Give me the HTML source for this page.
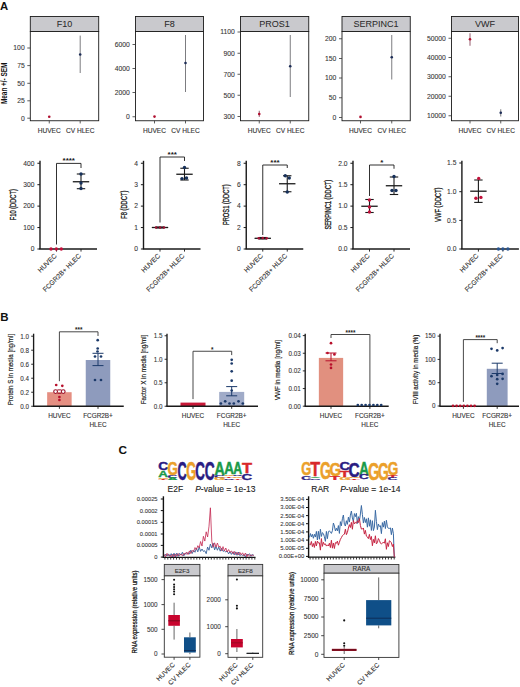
<!DOCTYPE html>
<html><head><meta charset="utf-8"><style>
html,body{margin:0;padding:0;background:#fff;width:520px;height:687px;overflow:hidden}
svg{display:block}
text{font-family:"Liberation Sans", sans-serif}
</style></head><body>
<svg width="520" height="687" viewBox="0 0 520 687">
<rect width="520" height="687" fill="#fff"/>
<text x="0.1" y="9.9" font-size="11.3" text-anchor="start" fill="#111" font-weight="bold">A</text>
<text x="0.2" y="320.6" font-size="11.5" text-anchor="start" fill="#111" font-weight="bold">B</text>
<text x="118.4" y="453.9" font-size="11.8" text-anchor="start" fill="#111" font-weight="bold">C</text>
<rect x="30.3" y="16.5" width="68.4" height="15" fill="#c9c9cd" stroke="#1a1a1a" stroke-width="0.9"/>
<rect x="30.3" y="31.5" width="68.4" height="89.25" fill="#fff" stroke="#1a1a1a" stroke-width="0.9"/>
<text x="64.5" y="27" font-size="9" text-anchor="middle" fill="#2a2a2a" font-weight="normal" stroke="#2a2a2a" stroke-width="0.05">F10</text>
<line x1="27.3" y1="48" x2="30.3" y2="48" stroke="#333" stroke-width="0.8"/>
<text x="24.7" y="50.4" font-size="6.8" text-anchor="end" fill="#333" font-weight="normal" stroke="#333" stroke-width="0.08">100</text>
<line x1="27.3" y1="65.6" x2="30.3" y2="65.6" stroke="#333" stroke-width="0.8"/>
<text x="24.7" y="68" font-size="6.8" text-anchor="end" fill="#333" font-weight="normal" stroke="#333" stroke-width="0.08">75</text>
<line x1="27.3" y1="83.3" x2="30.3" y2="83.3" stroke="#333" stroke-width="0.8"/>
<text x="24.7" y="85.7" font-size="6.8" text-anchor="end" fill="#333" font-weight="normal" stroke="#333" stroke-width="0.08">50</text>
<line x1="27.3" y1="100.8" x2="30.3" y2="100.8" stroke="#333" stroke-width="0.8"/>
<text x="24.7" y="103.2" font-size="6.8" text-anchor="end" fill="#333" font-weight="normal" stroke="#333" stroke-width="0.08">25</text>
<line x1="27.3" y1="118.2" x2="30.3" y2="118.2" stroke="#333" stroke-width="0.8"/>
<text x="24.7" y="120.6" font-size="6.8" text-anchor="end" fill="#333" font-weight="normal" stroke="#333" stroke-width="0.08">0</text>
<line x1="49.25" y1="120.75" x2="49.25" y2="123.45" stroke="#333" stroke-width="0.8"/>
<text x="49.25" y="132.6" font-size="6.6" text-anchor="middle" fill="#333" font-weight="normal" stroke="#333" stroke-width="0.12">HUVEC</text>
<line x1="80.2" y1="120.75" x2="80.2" y2="123.45" stroke="#333" stroke-width="0.8"/>
<text x="80.2" y="132.6" font-size="6.6" text-anchor="middle" fill="#333" font-weight="normal" stroke="#333" stroke-width="0.12">CV HLEC</text>
<circle cx="49.25" cy="116.7" r="1.3" fill="#b01030" stroke="none" stroke-width="0"/>
<line x1="80.2" y1="35.6" x2="80.2" y2="73" stroke="#5a5a60" stroke-width="0.8"/>
<circle cx="80.2" cy="54.5" r="1.3" fill="#1c2c56" stroke="none" stroke-width="0"/>
<rect x="135.5" y="16.5" width="68" height="15" fill="#c9c9cd" stroke="#1a1a1a" stroke-width="0.9"/>
<rect x="135.5" y="31.5" width="68" height="89.25" fill="#fff" stroke="#1a1a1a" stroke-width="0.9"/>
<text x="169.5" y="27" font-size="9" text-anchor="middle" fill="#2a2a2a" font-weight="normal" stroke="#2a2a2a" stroke-width="0.05">F8</text>
<line x1="132.5" y1="44.5" x2="135.5" y2="44.5" stroke="#333" stroke-width="0.8"/>
<text x="129.9" y="46.9" font-size="6.8" text-anchor="end" fill="#333" font-weight="normal" stroke="#333" stroke-width="0.08">6000</text>
<line x1="132.5" y1="68.5" x2="135.5" y2="68.5" stroke="#333" stroke-width="0.8"/>
<text x="129.9" y="70.9" font-size="6.8" text-anchor="end" fill="#333" font-weight="normal" stroke="#333" stroke-width="0.08">4000</text>
<line x1="132.5" y1="92.5" x2="135.5" y2="92.5" stroke="#333" stroke-width="0.8"/>
<text x="129.9" y="94.9" font-size="6.8" text-anchor="end" fill="#333" font-weight="normal" stroke="#333" stroke-width="0.08">2000</text>
<line x1="132.5" y1="116.75" x2="135.5" y2="116.75" stroke="#333" stroke-width="0.8"/>
<text x="129.9" y="119.15" font-size="6.8" text-anchor="end" fill="#333" font-weight="normal" stroke="#333" stroke-width="0.08">0</text>
<line x1="154.5" y1="120.75" x2="154.5" y2="123.45" stroke="#333" stroke-width="0.8"/>
<text x="154.5" y="132.6" font-size="6.6" text-anchor="middle" fill="#333" font-weight="normal" stroke="#333" stroke-width="0.12">HUVEC</text>
<line x1="185.5" y1="120.75" x2="185.5" y2="123.45" stroke="#333" stroke-width="0.8"/>
<text x="185.5" y="132.6" font-size="6.6" text-anchor="middle" fill="#333" font-weight="normal" stroke="#333" stroke-width="0.12">CV HLEC</text>
<circle cx="154.5" cy="116.6" r="1.3" fill="#b01030" stroke="none" stroke-width="0"/>
<line x1="185.5" y1="35" x2="185.5" y2="92" stroke="#5a5a60" stroke-width="0.8"/>
<circle cx="185.5" cy="63" r="1.3" fill="#1c2c56" stroke="none" stroke-width="0"/>
<rect x="240.5" y="16.5" width="68.25" height="15" fill="#c9c9cd" stroke="#1a1a1a" stroke-width="0.9"/>
<rect x="240.5" y="31.5" width="68.25" height="89.25" fill="#fff" stroke="#1a1a1a" stroke-width="0.9"/>
<text x="274.62" y="27" font-size="9" text-anchor="middle" fill="#2a2a2a" font-weight="normal" stroke="#2a2a2a" stroke-width="0.05">PROS1</text>
<line x1="237.5" y1="32" x2="240.5" y2="32" stroke="#333" stroke-width="0.8"/>
<text x="234.9" y="34.4" font-size="6.8" text-anchor="end" fill="#333" font-weight="normal" stroke="#333" stroke-width="0.08">1100</text>
<line x1="237.5" y1="53.25" x2="240.5" y2="53.25" stroke="#333" stroke-width="0.8"/>
<text x="234.9" y="55.65" font-size="6.8" text-anchor="end" fill="#333" font-weight="normal" stroke="#333" stroke-width="0.08">900</text>
<line x1="237.5" y1="74.25" x2="240.5" y2="74.25" stroke="#333" stroke-width="0.8"/>
<text x="234.9" y="76.65" font-size="6.8" text-anchor="end" fill="#333" font-weight="normal" stroke="#333" stroke-width="0.08">700</text>
<line x1="237.5" y1="95.25" x2="240.5" y2="95.25" stroke="#333" stroke-width="0.8"/>
<text x="234.9" y="97.65" font-size="6.8" text-anchor="end" fill="#333" font-weight="normal" stroke="#333" stroke-width="0.08">500</text>
<line x1="237.5" y1="116.5" x2="240.5" y2="116.5" stroke="#333" stroke-width="0.8"/>
<text x="234.9" y="118.9" font-size="6.8" text-anchor="end" fill="#333" font-weight="normal" stroke="#333" stroke-width="0.08">300</text>
<line x1="259.25" y1="120.75" x2="259.25" y2="123.45" stroke="#333" stroke-width="0.8"/>
<text x="259.25" y="132.6" font-size="6.6" text-anchor="middle" fill="#333" font-weight="normal" stroke="#333" stroke-width="0.12">HUVEC</text>
<line x1="290.25" y1="120.75" x2="290.25" y2="123.45" stroke="#333" stroke-width="0.8"/>
<text x="290.25" y="132.6" font-size="6.6" text-anchor="middle" fill="#333" font-weight="normal" stroke="#333" stroke-width="0.12">CV HLEC</text>
<line x1="259.25" y1="110.75" x2="259.25" y2="116.9" stroke="#7a3048" stroke-width="0.8"/>
<circle cx="259.25" cy="114" r="1.3" fill="#b01030" stroke="none" stroke-width="0"/>
<line x1="290.25" y1="35" x2="290.25" y2="97" stroke="#5a5a60" stroke-width="0.8"/>
<circle cx="290.25" cy="66.25" r="1.3" fill="#1c2c56" stroke="none" stroke-width="0"/>
<rect x="342" y="16.5" width="68.25" height="15" fill="#c9c9cd" stroke="#1a1a1a" stroke-width="0.9"/>
<rect x="342" y="31.5" width="68.25" height="89.25" fill="#fff" stroke="#1a1a1a" stroke-width="0.9"/>
<text x="376.12" y="27" font-size="9" text-anchor="middle" fill="#2a2a2a" font-weight="normal" stroke="#2a2a2a" stroke-width="0.05">SERPINC1</text>
<line x1="339" y1="38.75" x2="342" y2="38.75" stroke="#333" stroke-width="0.8"/>
<text x="336.4" y="41.15" font-size="6.8" text-anchor="end" fill="#333" font-weight="normal" stroke="#333" stroke-width="0.08">200</text>
<line x1="339" y1="58.5" x2="342" y2="58.5" stroke="#333" stroke-width="0.8"/>
<text x="336.4" y="60.9" font-size="6.8" text-anchor="end" fill="#333" font-weight="normal" stroke="#333" stroke-width="0.08">150</text>
<line x1="339" y1="78" x2="342" y2="78" stroke="#333" stroke-width="0.8"/>
<text x="336.4" y="80.4" font-size="6.8" text-anchor="end" fill="#333" font-weight="normal" stroke="#333" stroke-width="0.08">100</text>
<line x1="339" y1="97.75" x2="342" y2="97.75" stroke="#333" stroke-width="0.8"/>
<text x="336.4" y="100.15" font-size="6.8" text-anchor="end" fill="#333" font-weight="normal" stroke="#333" stroke-width="0.08">50</text>
<line x1="339" y1="117.5" x2="342" y2="117.5" stroke="#333" stroke-width="0.8"/>
<text x="336.4" y="119.9" font-size="6.8" text-anchor="end" fill="#333" font-weight="normal" stroke="#333" stroke-width="0.08">0</text>
<line x1="360.5" y1="120.75" x2="360.5" y2="123.45" stroke="#333" stroke-width="0.8"/>
<text x="360.5" y="132.6" font-size="6.6" text-anchor="middle" fill="#333" font-weight="normal" stroke="#333" stroke-width="0.12">HUVEC</text>
<line x1="391.75" y1="120.75" x2="391.75" y2="123.45" stroke="#333" stroke-width="0.8"/>
<text x="391.75" y="132.6" font-size="6.6" text-anchor="middle" fill="#333" font-weight="normal" stroke="#333" stroke-width="0.12">CV HLEC</text>
<circle cx="360.5" cy="116.9" r="1.3" fill="#b01030" stroke="none" stroke-width="0"/>
<line x1="391.75" y1="35" x2="391.75" y2="79.5" stroke="#5a5a60" stroke-width="0.8"/>
<circle cx="391.75" cy="57.25" r="1.3" fill="#1c2c56" stroke="none" stroke-width="0"/>
<rect x="451.5" y="16.5" width="67" height="15" fill="#c9c9cd" stroke="#1a1a1a" stroke-width="0.9"/>
<rect x="451.5" y="31.5" width="67" height="89.25" fill="#fff" stroke="#1a1a1a" stroke-width="0.9"/>
<text x="485" y="27" font-size="9" text-anchor="middle" fill="#2a2a2a" font-weight="normal" stroke="#2a2a2a" stroke-width="0.05">VWF</text>
<line x1="448.5" y1="38.25" x2="451.5" y2="38.25" stroke="#333" stroke-width="0.8"/>
<text x="445.9" y="40.65" font-size="6.8" text-anchor="end" fill="#333" font-weight="normal" stroke="#333" stroke-width="0.08">50000</text>
<line x1="448.5" y1="57.5" x2="451.5" y2="57.5" stroke="#333" stroke-width="0.8"/>
<text x="445.9" y="59.9" font-size="6.8" text-anchor="end" fill="#333" font-weight="normal" stroke="#333" stroke-width="0.08">40000</text>
<line x1="448.5" y1="76.75" x2="451.5" y2="76.75" stroke="#333" stroke-width="0.8"/>
<text x="445.9" y="79.15" font-size="6.8" text-anchor="end" fill="#333" font-weight="normal" stroke="#333" stroke-width="0.08">30000</text>
<line x1="448.5" y1="96.25" x2="451.5" y2="96.25" stroke="#333" stroke-width="0.8"/>
<text x="445.9" y="98.65" font-size="6.8" text-anchor="end" fill="#333" font-weight="normal" stroke="#333" stroke-width="0.08">20000</text>
<line x1="448.5" y1="115.75" x2="451.5" y2="115.75" stroke="#333" stroke-width="0.8"/>
<text x="445.9" y="118.15" font-size="6.8" text-anchor="end" fill="#333" font-weight="normal" stroke="#333" stroke-width="0.08">10000</text>
<line x1="470" y1="120.75" x2="470" y2="123.45" stroke="#333" stroke-width="0.8"/>
<text x="470" y="132.6" font-size="6.6" text-anchor="middle" fill="#333" font-weight="normal" stroke="#333" stroke-width="0.12">HUVEC</text>
<line x1="500.75" y1="120.75" x2="500.75" y2="123.45" stroke="#333" stroke-width="0.8"/>
<text x="500.75" y="132.6" font-size="6.6" text-anchor="middle" fill="#333" font-weight="normal" stroke="#333" stroke-width="0.12">CV HLEC</text>
<line x1="470" y1="33.25" x2="470" y2="45.75" stroke="#7a3048" stroke-width="0.8"/>
<circle cx="470" cy="39.25" r="1.3" fill="#b01030" stroke="none" stroke-width="0"/>
<line x1="500.75" y1="109.25" x2="500.75" y2="116.5" stroke="#5a5a60" stroke-width="0.8"/>
<circle cx="500.75" cy="112.75" r="1.3" fill="#1c2c56" stroke="none" stroke-width="0"/>
<text x="7.3" y="83.35" font-size="8.2" text-anchor="middle" fill="#111" font-weight="bold" transform="rotate(-90 7.3 83.35)" textLength="41.5" lengthAdjust="spacingAndGlyphs">Mean +/- SEM</text>
<line x1="40" y1="160.8" x2="40" y2="249" stroke="#1a1a1a" stroke-width="1.4"/>
<line x1="39.3" y1="249" x2="97" y2="249" stroke="#1a1a1a" stroke-width="1.4"/>
<line x1="37.4" y1="163.25" x2="40" y2="163.25" stroke="#1a1a1a" stroke-width="1.0"/>
<text x="34.5" y="165.55" font-size="6.7" text-anchor="end" fill="#333" font-weight="normal" stroke="#333" stroke-width="0.08">400</text>
<line x1="37.4" y1="184.69" x2="40" y2="184.69" stroke="#1a1a1a" stroke-width="1.0"/>
<text x="34.5" y="186.99" font-size="6.7" text-anchor="end" fill="#333" font-weight="normal" stroke="#333" stroke-width="0.08">300</text>
<line x1="37.4" y1="206.12" x2="40" y2="206.12" stroke="#1a1a1a" stroke-width="1.0"/>
<text x="34.5" y="208.43" font-size="6.7" text-anchor="end" fill="#333" font-weight="normal" stroke="#333" stroke-width="0.08">200</text>
<line x1="37.4" y1="227.56" x2="40" y2="227.56" stroke="#1a1a1a" stroke-width="1.0"/>
<text x="34.5" y="229.86" font-size="6.7" text-anchor="end" fill="#333" font-weight="normal" stroke="#333" stroke-width="0.08">100</text>
<line x1="37.4" y1="249" x2="40" y2="249" stroke="#1a1a1a" stroke-width="1.0"/>
<text x="34.5" y="251.3" font-size="6.7" text-anchor="end" fill="#333" font-weight="normal" stroke="#333" stroke-width="0.08">0</text>
<line x1="56.5" y1="249" x2="56.5" y2="251.6" stroke="#1a1a1a" stroke-width="0.9"/>
<line x1="81" y1="249" x2="81" y2="251.6" stroke="#1a1a1a" stroke-width="0.9"/>
<text x="57.1" y="256.4" font-size="6.7" text-anchor="end" fill="#333" font-weight="normal" stroke="#333" stroke-width="0.12" transform="rotate(-45 57.1 256.4)">HUVEC</text>
<text x="81.4" y="256.4" font-size="6.7" text-anchor="end" fill="#333" font-weight="normal" stroke="#333" stroke-width="0.12" transform="rotate(-45 81.4 256.4)">FCGR2B+ HLEC</text>
<text x="15.9" y="204.7" font-size="8.2" text-anchor="middle" fill="#111" font-weight="normal" stroke="#111" stroke-width="0.28" transform="rotate(-90 15.9 204.7)" textLength="31.2" lengthAdjust="spacingAndGlyphs">F10 (DDCT)</text>
<path d="M56.5 244.5 V163.4 H81 V168" stroke="#1a1a1a" stroke-width="0.9" fill="none"/>
<text x="68.75" y="162.9" font-size="8" text-anchor="middle" fill="#1a1a1a" font-weight="bold">****</text>
<line x1="81" y1="174" x2="81" y2="188.7" stroke="#1a1a1a" stroke-width="1.1"/>
<line x1="76.8" y1="174" x2="85.2" y2="174" stroke="#1a1a1a" stroke-width="1.1"/>
<line x1="76.8" y1="188.7" x2="85.2" y2="188.7" stroke="#1a1a1a" stroke-width="1.1"/>
<line x1="72.8" y1="181.75" x2="89.2" y2="181.75" stroke="#1a1a1a" stroke-width="1.3"/>
<circle cx="51" cy="249" r="1.7" fill="#c2103a" stroke="none" stroke-width="0"/>
<circle cx="56.3" cy="249" r="1.7" fill="#c2103a" stroke="none" stroke-width="0"/>
<circle cx="61.3" cy="249" r="1.7" fill="#c2103a" stroke="none" stroke-width="0"/>
<circle cx="81" cy="174" r="1.7" fill="#16305a" stroke="none" stroke-width="0"/>
<circle cx="81" cy="183" r="1.7" fill="#16305a" stroke="none" stroke-width="0"/>
<circle cx="81" cy="188.5" r="1.7" fill="#16305a" stroke="none" stroke-width="0"/>
<line x1="143.5" y1="160.8" x2="143.5" y2="249" stroke="#1a1a1a" stroke-width="1.4"/>
<line x1="142.8" y1="249" x2="200.5" y2="249" stroke="#1a1a1a" stroke-width="1.4"/>
<line x1="140.9" y1="163.25" x2="143.5" y2="163.25" stroke="#1a1a1a" stroke-width="1.0"/>
<text x="138" y="165.55" font-size="6.7" text-anchor="end" fill="#333" font-weight="normal" stroke="#333" stroke-width="0.08">4</text>
<line x1="140.9" y1="184.69" x2="143.5" y2="184.69" stroke="#1a1a1a" stroke-width="1.0"/>
<text x="138" y="186.99" font-size="6.7" text-anchor="end" fill="#333" font-weight="normal" stroke="#333" stroke-width="0.08">3</text>
<line x1="140.9" y1="206.12" x2="143.5" y2="206.12" stroke="#1a1a1a" stroke-width="1.0"/>
<text x="138" y="208.43" font-size="6.7" text-anchor="end" fill="#333" font-weight="normal" stroke="#333" stroke-width="0.08">2</text>
<line x1="140.9" y1="227.56" x2="143.5" y2="227.56" stroke="#1a1a1a" stroke-width="1.0"/>
<text x="138" y="229.86" font-size="6.7" text-anchor="end" fill="#333" font-weight="normal" stroke="#333" stroke-width="0.08">1</text>
<line x1="140.9" y1="249" x2="143.5" y2="249" stroke="#1a1a1a" stroke-width="1.0"/>
<text x="138" y="251.3" font-size="6.7" text-anchor="end" fill="#333" font-weight="normal" stroke="#333" stroke-width="0.08">0</text>
<line x1="160" y1="249" x2="160" y2="251.6" stroke="#1a1a1a" stroke-width="0.9"/>
<line x1="184.5" y1="249" x2="184.5" y2="251.6" stroke="#1a1a1a" stroke-width="0.9"/>
<text x="160.6" y="256.4" font-size="6.7" text-anchor="end" fill="#333" font-weight="normal" stroke="#333" stroke-width="0.12" transform="rotate(-45 160.6 256.4)">HUVEC</text>
<text x="184.9" y="256.4" font-size="6.7" text-anchor="end" fill="#333" font-weight="normal" stroke="#333" stroke-width="0.12" transform="rotate(-45 184.9 256.4)">FCGR2B+ HLEC</text>
<text x="126.8" y="204.7" font-size="8.2" text-anchor="middle" fill="#111" font-weight="normal" stroke="#111" stroke-width="0.28" transform="rotate(-90 126.8 204.7)" textLength="28" lengthAdjust="spacingAndGlyphs">F8 (DDCT)</text>
<path d="M160 222.5 V157 H184.5 V161" stroke="#1a1a1a" stroke-width="0.9" fill="none"/>
<text x="172.25" y="156.5" font-size="8" text-anchor="middle" fill="#1a1a1a" font-weight="bold">***</text>
<line x1="160" y1="227" x2="160" y2="228" stroke="#1a1a1a" stroke-width="1.1"/>
<line x1="155.8" y1="227" x2="164.2" y2="227" stroke="#1a1a1a" stroke-width="1.1"/>
<line x1="155.8" y1="228" x2="164.2" y2="228" stroke="#1a1a1a" stroke-width="1.1"/>
<line x1="151.8" y1="227.5" x2="168.2" y2="227.5" stroke="#1a1a1a" stroke-width="1.3"/>
<line x1="184.5" y1="168.25" x2="184.5" y2="180" stroke="#1a1a1a" stroke-width="1.1"/>
<line x1="180.3" y1="168.25" x2="188.7" y2="168.25" stroke="#1a1a1a" stroke-width="1.1"/>
<line x1="180.3" y1="180" x2="188.7" y2="180" stroke="#1a1a1a" stroke-width="1.1"/>
<line x1="176.3" y1="174.25" x2="192.7" y2="174.25" stroke="#1a1a1a" stroke-width="1.3"/>
<circle cx="156" cy="227.5" r="1.25" fill="#9a1030" stroke="none" stroke-width="0"/>
<circle cx="160" cy="227.5" r="1.25" fill="#9a1030" stroke="none" stroke-width="0"/>
<circle cx="164" cy="227.5" r="1.25" fill="#9a1030" stroke="none" stroke-width="0"/>
<circle cx="184.5" cy="167.5" r="1.7" fill="#16305a" stroke="none" stroke-width="0"/>
<circle cx="182" cy="178.6" r="1.7" fill="#16305a" stroke="none" stroke-width="0"/>
<circle cx="186.5" cy="178" r="1.7" fill="#16305a" stroke="none" stroke-width="0"/>
<line x1="246.25" y1="160.8" x2="246.25" y2="249" stroke="#1a1a1a" stroke-width="1.4"/>
<line x1="245.55" y1="249" x2="303.25" y2="249" stroke="#1a1a1a" stroke-width="1.4"/>
<line x1="243.65" y1="163.25" x2="246.25" y2="163.25" stroke="#1a1a1a" stroke-width="1.0"/>
<text x="240.75" y="165.55" font-size="6.7" text-anchor="end" fill="#333" font-weight="normal" stroke="#333" stroke-width="0.08">8</text>
<line x1="243.65" y1="184.69" x2="246.25" y2="184.69" stroke="#1a1a1a" stroke-width="1.0"/>
<text x="240.75" y="186.99" font-size="6.7" text-anchor="end" fill="#333" font-weight="normal" stroke="#333" stroke-width="0.08">6</text>
<line x1="243.65" y1="206.12" x2="246.25" y2="206.12" stroke="#1a1a1a" stroke-width="1.0"/>
<text x="240.75" y="208.43" font-size="6.7" text-anchor="end" fill="#333" font-weight="normal" stroke="#333" stroke-width="0.08">4</text>
<line x1="243.65" y1="227.56" x2="246.25" y2="227.56" stroke="#1a1a1a" stroke-width="1.0"/>
<text x="240.75" y="229.86" font-size="6.7" text-anchor="end" fill="#333" font-weight="normal" stroke="#333" stroke-width="0.08">2</text>
<line x1="243.65" y1="249" x2="246.25" y2="249" stroke="#1a1a1a" stroke-width="1.0"/>
<text x="240.75" y="251.3" font-size="6.7" text-anchor="end" fill="#333" font-weight="normal" stroke="#333" stroke-width="0.08">0</text>
<line x1="262.75" y1="249" x2="262.75" y2="251.6" stroke="#1a1a1a" stroke-width="0.9"/>
<line x1="287.25" y1="249" x2="287.25" y2="251.6" stroke="#1a1a1a" stroke-width="0.9"/>
<text x="263.35" y="256.4" font-size="6.7" text-anchor="end" fill="#333" font-weight="normal" stroke="#333" stroke-width="0.12" transform="rotate(-45 263.35 256.4)">HUVEC</text>
<text x="287.65" y="256.4" font-size="6.7" text-anchor="end" fill="#333" font-weight="normal" stroke="#333" stroke-width="0.12" transform="rotate(-45 287.65 256.4)">FCGR2B+ HLEC</text>
<text x="229.4" y="204.7" font-size="8.2" text-anchor="middle" fill="#111" font-weight="normal" stroke="#111" stroke-width="0.28" transform="rotate(-90 229.4 204.7)" textLength="40.8" lengthAdjust="spacingAndGlyphs">PROS1 (DDCT)</text>
<path d="M262.75 235 V165 H287.25 V168" stroke="#1a1a1a" stroke-width="0.9" fill="none"/>
<text x="275" y="164.5" font-size="8" text-anchor="middle" fill="#1a1a1a" font-weight="bold">***</text>
<line x1="262.75" y1="237.5" x2="262.75" y2="239" stroke="#1a1a1a" stroke-width="1.1"/>
<line x1="258.55" y1="237.5" x2="266.95" y2="237.5" stroke="#1a1a1a" stroke-width="1.1"/>
<line x1="258.55" y1="239" x2="266.95" y2="239" stroke="#1a1a1a" stroke-width="1.1"/>
<line x1="254.55" y1="238.3" x2="270.95" y2="238.3" stroke="#1a1a1a" stroke-width="1.3"/>
<line x1="287.25" y1="175.75" x2="287.25" y2="191.75" stroke="#1a1a1a" stroke-width="1.1"/>
<line x1="283.05" y1="175.75" x2="291.45" y2="175.75" stroke="#1a1a1a" stroke-width="1.1"/>
<line x1="283.05" y1="191.75" x2="291.45" y2="191.75" stroke="#1a1a1a" stroke-width="1.1"/>
<line x1="279.05" y1="183.75" x2="295.45" y2="183.75" stroke="#1a1a1a" stroke-width="1.3"/>
<circle cx="258.75" cy="238.3" r="1.3" fill="#a81034" stroke="none" stroke-width="0"/>
<circle cx="262.75" cy="238" r="1.3" fill="#a81034" stroke="none" stroke-width="0"/>
<circle cx="266.75" cy="238.3" r="1.3" fill="#a81034" stroke="none" stroke-width="0"/>
<circle cx="285.25" cy="175.8" r="1.7" fill="#16305a" stroke="none" stroke-width="0"/>
<circle cx="289.25" cy="178" r="1.7" fill="#16305a" stroke="none" stroke-width="0"/>
<circle cx="287.25" cy="192" r="1.7" fill="#16305a" stroke="none" stroke-width="0"/>
<line x1="353" y1="160.8" x2="353" y2="249" stroke="#1a1a1a" stroke-width="1.4"/>
<line x1="352.3" y1="249" x2="410" y2="249" stroke="#1a1a1a" stroke-width="1.4"/>
<line x1="350.4" y1="163.25" x2="353" y2="163.25" stroke="#1a1a1a" stroke-width="1.0"/>
<text x="347.5" y="165.55" font-size="6.7" text-anchor="end" fill="#333" font-weight="normal" stroke="#333" stroke-width="0.08">2.0</text>
<line x1="350.4" y1="184.69" x2="353" y2="184.69" stroke="#1a1a1a" stroke-width="1.0"/>
<text x="347.5" y="186.99" font-size="6.7" text-anchor="end" fill="#333" font-weight="normal" stroke="#333" stroke-width="0.08">1.5</text>
<line x1="350.4" y1="206.12" x2="353" y2="206.12" stroke="#1a1a1a" stroke-width="1.0"/>
<text x="347.5" y="208.43" font-size="6.7" text-anchor="end" fill="#333" font-weight="normal" stroke="#333" stroke-width="0.08">1.0</text>
<line x1="350.4" y1="227.56" x2="353" y2="227.56" stroke="#1a1a1a" stroke-width="1.0"/>
<text x="347.5" y="229.86" font-size="6.7" text-anchor="end" fill="#333" font-weight="normal" stroke="#333" stroke-width="0.08">0.5</text>
<line x1="350.4" y1="249" x2="353" y2="249" stroke="#1a1a1a" stroke-width="1.0"/>
<text x="347.5" y="251.3" font-size="6.7" text-anchor="end" fill="#333" font-weight="normal" stroke="#333" stroke-width="0.08">0.0</text>
<line x1="369.5" y1="249" x2="369.5" y2="251.6" stroke="#1a1a1a" stroke-width="0.9"/>
<line x1="394" y1="249" x2="394" y2="251.6" stroke="#1a1a1a" stroke-width="0.9"/>
<text x="370.1" y="256.4" font-size="6.7" text-anchor="end" fill="#333" font-weight="normal" stroke="#333" stroke-width="0.12" transform="rotate(-45 370.1 256.4)">HUVEC</text>
<text x="394.4" y="256.4" font-size="6.7" text-anchor="end" fill="#333" font-weight="normal" stroke="#333" stroke-width="0.12" transform="rotate(-45 394.4 256.4)">FCGR2B+ HLEC</text>
<text x="331.3" y="204.7" font-size="8.2" text-anchor="middle" fill="#111" font-weight="normal" stroke="#111" stroke-width="0.28" transform="rotate(-90 331.3 204.7)" textLength="49.8" lengthAdjust="spacingAndGlyphs">SERPINC1 (DDCT)</text>
<path d="M369.5 196 V165 H394 V168.75" stroke="#1a1a1a" stroke-width="0.9" fill="none"/>
<text x="381.75" y="164.5" font-size="8" text-anchor="middle" fill="#1a1a1a" font-weight="bold">*</text>
<line x1="369.5" y1="199.5" x2="369.5" y2="212.5" stroke="#1a1a1a" stroke-width="1.1"/>
<line x1="365.3" y1="199.5" x2="373.7" y2="199.5" stroke="#1a1a1a" stroke-width="1.1"/>
<line x1="365.3" y1="212.5" x2="373.7" y2="212.5" stroke="#1a1a1a" stroke-width="1.1"/>
<line x1="361.3" y1="206.25" x2="377.7" y2="206.25" stroke="#1a1a1a" stroke-width="1.3"/>
<line x1="394" y1="177" x2="394" y2="194.5" stroke="#1a1a1a" stroke-width="1.1"/>
<line x1="389.8" y1="177" x2="398.2" y2="177" stroke="#1a1a1a" stroke-width="1.1"/>
<line x1="389.8" y1="194.5" x2="398.2" y2="194.5" stroke="#1a1a1a" stroke-width="1.1"/>
<line x1="385.8" y1="185.75" x2="402.2" y2="185.75" stroke="#1a1a1a" stroke-width="1.3"/>
<circle cx="369.5" cy="200" r="1.7" fill="#c2103a" stroke="none" stroke-width="0"/>
<circle cx="369.5" cy="207" r="1.7" fill="#c2103a" stroke="none" stroke-width="0"/>
<circle cx="369.5" cy="212" r="1.7" fill="#c2103a" stroke="none" stroke-width="0"/>
<circle cx="394" cy="176.5" r="1.7" fill="#16305a" stroke="none" stroke-width="0"/>
<circle cx="392" cy="190.5" r="1.7" fill="#16305a" stroke="none" stroke-width="0"/>
<circle cx="396" cy="190.5" r="1.7" fill="#16305a" stroke="none" stroke-width="0"/>
<line x1="461.9" y1="160.8" x2="461.9" y2="249" stroke="#1a1a1a" stroke-width="1.4"/>
<line x1="461.2" y1="249" x2="518.9" y2="249" stroke="#1a1a1a" stroke-width="1.4"/>
<line x1="459.3" y1="163" x2="461.9" y2="163" stroke="#1a1a1a" stroke-width="1.0"/>
<text x="456.4" y="165.3" font-size="6.7" text-anchor="end" fill="#333" font-weight="normal" stroke="#333" stroke-width="0.08">1.5</text>
<line x1="459.3" y1="191.7" x2="461.9" y2="191.7" stroke="#1a1a1a" stroke-width="1.0"/>
<text x="456.4" y="194" font-size="6.7" text-anchor="end" fill="#333" font-weight="normal" stroke="#333" stroke-width="0.08">1.0</text>
<line x1="459.3" y1="220.4" x2="461.9" y2="220.4" stroke="#1a1a1a" stroke-width="1.0"/>
<text x="456.4" y="222.7" font-size="6.7" text-anchor="end" fill="#333" font-weight="normal" stroke="#333" stroke-width="0.08">0.5</text>
<line x1="459.3" y1="249" x2="461.9" y2="249" stroke="#1a1a1a" stroke-width="1.0"/>
<text x="456.4" y="251.3" font-size="6.7" text-anchor="end" fill="#333" font-weight="normal" stroke="#333" stroke-width="0.08">0.0</text>
<line x1="478.4" y1="249" x2="478.4" y2="251.6" stroke="#1a1a1a" stroke-width="0.9"/>
<line x1="502.9" y1="249" x2="502.9" y2="251.6" stroke="#1a1a1a" stroke-width="0.9"/>
<text x="479" y="256.4" font-size="6.7" text-anchor="end" fill="#333" font-weight="normal" stroke="#333" stroke-width="0.12" transform="rotate(-45 479 256.4)">HUVEC</text>
<text x="503.3" y="256.4" font-size="6.7" text-anchor="end" fill="#333" font-weight="normal" stroke="#333" stroke-width="0.12" transform="rotate(-45 503.3 256.4)">FCGR2B+ HLEC</text>
<text x="440.8" y="204.7" font-size="8.2" text-anchor="middle" fill="#111" font-weight="normal" stroke="#111" stroke-width="0.28" transform="rotate(-90 440.8 204.7)" textLength="34.4" lengthAdjust="spacingAndGlyphs">VWF (DDCT)</text>
<line x1="478.4" y1="180" x2="478.4" y2="202.4" stroke="#1a1a1a" stroke-width="1.1"/>
<line x1="474.2" y1="180" x2="482.6" y2="180" stroke="#1a1a1a" stroke-width="1.1"/>
<line x1="474.2" y1="202.4" x2="482.6" y2="202.4" stroke="#1a1a1a" stroke-width="1.1"/>
<line x1="470.2" y1="191.2" x2="486.6" y2="191.2" stroke="#1a1a1a" stroke-width="1.3"/>
<circle cx="478.7" cy="178.4" r="1.7" fill="#c2103a" stroke="none" stroke-width="0"/>
<circle cx="475.9" cy="198.2" r="1.7" fill="#c2103a" stroke="none" stroke-width="0"/>
<circle cx="480.9" cy="197.4" r="1.7" fill="#c2103a" stroke="none" stroke-width="0"/>
<circle cx="498.4" cy="249" r="1.7" fill="#2a5590" stroke="none" stroke-width="0"/>
<circle cx="502.9" cy="249" r="1.7" fill="#2a5590" stroke="none" stroke-width="0"/>
<circle cx="507.9" cy="249" r="1.7" fill="#2a5590" stroke="none" stroke-width="0"/>
<rect x="47.15" y="392.2" width="24.5" height="14.05" fill="#e58f82" stroke="none" stroke-width="1"/>
<rect x="85.75" y="360" width="24.5" height="46.25" fill="#8e9bbd" stroke="none" stroke-width="1"/>
<line x1="33.6" y1="333.7" x2="33.6" y2="406.25" stroke="#1a1a1a" stroke-width="1.35"/>
<line x1="32.95" y1="406.25" x2="123.75" y2="406.25" stroke="#1a1a1a" stroke-width="1.35"/>
<line x1="31.2" y1="336.2" x2="33.6" y2="336.2" stroke="#1a1a1a" stroke-width="0.9"/>
<text x="29.1" y="338.5" font-size="6.3" text-anchor="end" fill="#333" font-weight="normal" stroke="#333" stroke-width="0.08">1.0</text>
<line x1="31.2" y1="350.21" x2="33.6" y2="350.21" stroke="#1a1a1a" stroke-width="0.9"/>
<text x="29.1" y="352.51" font-size="6.3" text-anchor="end" fill="#333" font-weight="normal" stroke="#333" stroke-width="0.08">0.8</text>
<line x1="31.2" y1="364.22" x2="33.6" y2="364.22" stroke="#1a1a1a" stroke-width="0.9"/>
<text x="29.1" y="366.52" font-size="6.3" text-anchor="end" fill="#333" font-weight="normal" stroke="#333" stroke-width="0.08">0.6</text>
<line x1="31.2" y1="378.23" x2="33.6" y2="378.23" stroke="#1a1a1a" stroke-width="0.9"/>
<text x="29.1" y="380.53" font-size="6.3" text-anchor="end" fill="#333" font-weight="normal" stroke="#333" stroke-width="0.08">0.4</text>
<line x1="31.2" y1="392.24" x2="33.6" y2="392.24" stroke="#1a1a1a" stroke-width="0.9"/>
<text x="29.1" y="394.54" font-size="6.3" text-anchor="end" fill="#333" font-weight="normal" stroke="#333" stroke-width="0.08">0.2</text>
<line x1="31.2" y1="406.25" x2="33.6" y2="406.25" stroke="#1a1a1a" stroke-width="0.9"/>
<text x="29.1" y="408.55" font-size="6.3" text-anchor="end" fill="#333" font-weight="normal" stroke="#333" stroke-width="0.08">0.0</text>
<line x1="59.4" y1="406.25" x2="59.4" y2="408.85" stroke="#1a1a1a" stroke-width="0.9"/>
<line x1="98" y1="406.25" x2="98" y2="408.85" stroke="#1a1a1a" stroke-width="0.9"/>
<text x="59.4" y="418.2" font-size="6.4" text-anchor="middle" fill="#333" font-weight="normal" stroke="#333" stroke-width="0.12">HUVEC</text>
<text x="98" y="418.2" font-size="6.4" text-anchor="middle" fill="#333" font-weight="normal" stroke="#333" stroke-width="0.12">FCGR2B+</text>
<text x="98" y="426.6" font-size="6.4" text-anchor="middle" fill="#333" font-weight="normal" stroke="#333" stroke-width="0.12">HLEC</text>
<text x="13" y="369.6" font-size="7.2" text-anchor="middle" fill="#111" font-weight="normal" stroke="#111" stroke-width="0.15" transform="rotate(-90 13 369.6)" textLength="71.4" lengthAdjust="spacingAndGlyphs">Protein S in media [ng/ml]</text>
<path d="M59.4 381.2 V331.8 H98 V336" stroke="#333" stroke-width="0.9" fill="none"/>
<text x="78.7" y="332.1" font-size="6.3" text-anchor="middle" fill="#1a1a1a" font-weight="bold">***</text>
<line x1="98" y1="353.3" x2="98" y2="365.6" stroke="#1c3a6a" stroke-width="1"/>
<line x1="92.5" y1="353.3" x2="103.5" y2="353.3" stroke="#1c3a6a" stroke-width="1"/>
<line x1="92.5" y1="365.6" x2="103.5" y2="365.6" stroke="#1c3a6a" stroke-width="1"/>
<circle cx="56.2" cy="385" r="1.35" fill="#b8102c" stroke="none" stroke-width="0"/>
<circle cx="62.3" cy="385.8" r="1.35" fill="#b8102c" stroke="none" stroke-width="0"/>
<circle cx="59.4" cy="397" r="1.35" fill="#b8102c" stroke="none" stroke-width="0"/>
<circle cx="59.4" cy="400" r="1.35" fill="#b8102c" stroke="none" stroke-width="0"/>
<circle cx="97.7" cy="340.2" r="1.35" fill="#1c3a6a" stroke="none" stroke-width="0"/>
<circle cx="97.7" cy="348.5" r="1.35" fill="#1c3a6a" stroke="none" stroke-width="0"/>
<circle cx="97.5" cy="351.5" r="1.35" fill="#1c3a6a" stroke="none" stroke-width="0"/>
<circle cx="95" cy="356.5" r="1.35" fill="#1c3a6a" stroke="none" stroke-width="0"/>
<circle cx="101" cy="356.5" r="1.35" fill="#1c3a6a" stroke="none" stroke-width="0"/>
<circle cx="95" cy="380" r="1.35" fill="#1c3a6a" stroke="none" stroke-width="0"/>
<circle cx="101" cy="380" r="1.35" fill="#1c3a6a" stroke="none" stroke-width="0"/>
<circle cx="55.6" cy="391.6" r="1.9" fill="#fff" stroke="#9a1028" stroke-width="1.1"/>
<circle cx="63.2" cy="391.6" r="1.9" fill="#fff" stroke="#9a1028" stroke-width="1.1"/>
<line x1="57.5" y1="389.9" x2="61.3" y2="389.9" stroke="#9a1028" stroke-width="1"/>
<line x1="57.5" y1="393.3" x2="61.3" y2="393.3" stroke="#9a1028" stroke-width="1"/>
<rect x="180.5" y="402.6" width="25" height="3.65" fill="#c81838" stroke="none" stroke-width="1"/>
<rect x="219.2" y="391.9" width="25" height="14.35" fill="#a0abc8" stroke="none" stroke-width="1"/>
<line x1="167" y1="333.7" x2="167" y2="406.25" stroke="#1a1a1a" stroke-width="1.35"/>
<line x1="166.35" y1="406.25" x2="258" y2="406.25" stroke="#1a1a1a" stroke-width="1.35"/>
<line x1="164.6" y1="335.75" x2="167" y2="335.75" stroke="#1a1a1a" stroke-width="0.9"/>
<text x="162.5" y="338.05" font-size="6.3" text-anchor="end" fill="#333" font-weight="normal" stroke="#333" stroke-width="0.08">1.5</text>
<line x1="164.6" y1="359.25" x2="167" y2="359.25" stroke="#1a1a1a" stroke-width="0.9"/>
<text x="162.5" y="361.55" font-size="6.3" text-anchor="end" fill="#333" font-weight="normal" stroke="#333" stroke-width="0.08">1.0</text>
<line x1="164.6" y1="382.75" x2="167" y2="382.75" stroke="#1a1a1a" stroke-width="0.9"/>
<text x="162.5" y="385.05" font-size="6.3" text-anchor="end" fill="#333" font-weight="normal" stroke="#333" stroke-width="0.08">0.5</text>
<line x1="164.6" y1="406.25" x2="167" y2="406.25" stroke="#1a1a1a" stroke-width="0.9"/>
<text x="162.5" y="408.55" font-size="6.3" text-anchor="end" fill="#333" font-weight="normal" stroke="#333" stroke-width="0.08">0.0</text>
<line x1="193" y1="406.25" x2="193" y2="408.85" stroke="#1a1a1a" stroke-width="0.9"/>
<line x1="231.7" y1="406.25" x2="231.7" y2="408.85" stroke="#1a1a1a" stroke-width="0.9"/>
<text x="193" y="418.2" font-size="6.4" text-anchor="middle" fill="#333" font-weight="normal" stroke="#333" stroke-width="0.12">HUVEC</text>
<text x="231.7" y="418.2" font-size="6.4" text-anchor="middle" fill="#333" font-weight="normal" stroke="#333" stroke-width="0.12">FCGR2B+</text>
<text x="231.7" y="426.6" font-size="6.4" text-anchor="middle" fill="#333" font-weight="normal" stroke="#333" stroke-width="0.12">HLEC</text>
<text x="145.5" y="369.5" font-size="7.2" text-anchor="middle" fill="#111" font-weight="normal" stroke="#111" stroke-width="0.15" transform="rotate(-90 145.5 369.5)" textLength="69.7" lengthAdjust="spacingAndGlyphs">Factor X in media [ng/ml]</text>
<path d="M193 399.1 V351.25 H231.7 V355.1" stroke="#333" stroke-width="0.9" fill="none"/>
<text x="212.35" y="351.55" font-size="6.3" text-anchor="middle" fill="#1a1a1a" font-weight="bold">*</text>
<line x1="231.7" y1="386.6" x2="231.7" y2="395.8" stroke="#1c3a6a" stroke-width="1"/>
<line x1="226.2" y1="386.6" x2="237.2" y2="386.6" stroke="#1c3a6a" stroke-width="1"/>
<line x1="226.2" y1="395.8" x2="237.2" y2="395.8" stroke="#1c3a6a" stroke-width="1"/>
<circle cx="231.7" cy="359.8" r="1.35" fill="#1c3a6a" stroke="none" stroke-width="0"/>
<circle cx="231.7" cy="363.5" r="1.35" fill="#1c3a6a" stroke="none" stroke-width="0"/>
<circle cx="231.7" cy="371.3" r="1.35" fill="#1c3a6a" stroke="none" stroke-width="0"/>
<circle cx="231.7" cy="380.7" r="1.35" fill="#1c3a6a" stroke="none" stroke-width="0"/>
<circle cx="231.7" cy="390.5" r="1.35" fill="#1c3a6a" stroke="none" stroke-width="0"/>
<circle cx="225.2" cy="401.3" r="1.35" fill="#1c3a6a" stroke="none" stroke-width="0"/>
<circle cx="238.5" cy="401.3" r="1.35" fill="#1c3a6a" stroke="none" stroke-width="0"/>
<circle cx="220.9" cy="403.5" r="1.35" fill="#1c3a6a" stroke="none" stroke-width="0"/>
<circle cx="229.5" cy="403.5" r="1.35" fill="#1c3a6a" stroke="none" stroke-width="0"/>
<circle cx="233.8" cy="403.5" r="1.35" fill="#1c3a6a" stroke="none" stroke-width="0"/>
<circle cx="242.8" cy="403.5" r="1.35" fill="#1c3a6a" stroke="none" stroke-width="0"/>
<rect x="318.85" y="357.9" width="24.3" height="48.35" fill="#e1907f" stroke="none" stroke-width="1"/>
<rect x="357.75" y="406.2" width="24.3" height="0.05" fill="#8e9bbd" stroke="none" stroke-width="1"/>
<line x1="305.2" y1="333.7" x2="305.2" y2="406.25" stroke="#1a1a1a" stroke-width="1.35"/>
<line x1="304.55" y1="406.25" x2="388.7" y2="406.25" stroke="#1a1a1a" stroke-width="1.35"/>
<line x1="302.8" y1="335.6" x2="305.2" y2="335.6" stroke="#1a1a1a" stroke-width="0.9"/>
<text x="300.7" y="337.9" font-size="6.3" text-anchor="end" fill="#333" font-weight="normal" stroke="#333" stroke-width="0.08">0.04</text>
<line x1="302.8" y1="353.25" x2="305.2" y2="353.25" stroke="#1a1a1a" stroke-width="0.9"/>
<text x="300.7" y="355.55" font-size="6.3" text-anchor="end" fill="#333" font-weight="normal" stroke="#333" stroke-width="0.08">0.03</text>
<line x1="302.8" y1="370.9" x2="305.2" y2="370.9" stroke="#1a1a1a" stroke-width="0.9"/>
<text x="300.7" y="373.2" font-size="6.3" text-anchor="end" fill="#333" font-weight="normal" stroke="#333" stroke-width="0.08">0.02</text>
<line x1="302.8" y1="388.55" x2="305.2" y2="388.55" stroke="#1a1a1a" stroke-width="0.9"/>
<text x="300.7" y="390.85" font-size="6.3" text-anchor="end" fill="#333" font-weight="normal" stroke="#333" stroke-width="0.08">0.01</text>
<line x1="302.8" y1="406.2" x2="305.2" y2="406.2" stroke="#1a1a1a" stroke-width="0.9"/>
<text x="300.7" y="408.5" font-size="6.3" text-anchor="end" fill="#333" font-weight="normal" stroke="#333" stroke-width="0.08">0.00</text>
<line x1="331" y1="406.25" x2="331" y2="408.85" stroke="#1a1a1a" stroke-width="0.9"/>
<line x1="369.9" y1="406.25" x2="369.9" y2="408.85" stroke="#1a1a1a" stroke-width="0.9"/>
<text x="331" y="418.2" font-size="6.4" text-anchor="middle" fill="#333" font-weight="normal" stroke="#333" stroke-width="0.12">HUVEC</text>
<text x="369.9" y="418.2" font-size="6.4" text-anchor="middle" fill="#333" font-weight="normal" stroke="#333" stroke-width="0.12">FCGR2B+</text>
<text x="369.9" y="426.6" font-size="6.4" text-anchor="middle" fill="#333" font-weight="normal" stroke="#333" stroke-width="0.12">HLEC</text>
<text x="280.5" y="370.1" font-size="7.2" text-anchor="middle" fill="#111" font-weight="normal" stroke="#111" stroke-width="0.15" transform="rotate(-90 280.5 370.1)" textLength="60.4" lengthAdjust="spacingAndGlyphs">VWF in media [ng/ml]</text>
<path d="M331 338 V334.5 H369.9 V404.6" stroke="#333" stroke-width="0.9" fill="none"/>
<text x="350.45" y="334.8" font-size="6.3" text-anchor="middle" fill="#1a1a1a" font-weight="bold">****</text>
<line x1="331" y1="353" x2="331" y2="360.8" stroke="#b8102c" stroke-width="1"/>
<line x1="325.5" y1="353" x2="336.5" y2="353" stroke="#b8102c" stroke-width="1"/>
<line x1="325.5" y1="360.8" x2="336.5" y2="360.8" stroke="#b8102c" stroke-width="1"/>
<circle cx="331" cy="343.2" r="1.35" fill="#b8102c" stroke="none" stroke-width="0"/>
<circle cx="327.5" cy="353" r="1.35" fill="#b8102c" stroke="none" stroke-width="0"/>
<circle cx="334.4" cy="354.4" r="1.35" fill="#b8102c" stroke="none" stroke-width="0"/>
<circle cx="331" cy="364.5" r="1.35" fill="#b8102c" stroke="none" stroke-width="0"/>
<circle cx="331" cy="367.9" r="1.35" fill="#b8102c" stroke="none" stroke-width="0"/>
<circle cx="357.8" cy="405" r="1.35" fill="#1c3a6a" stroke="none" stroke-width="0"/>
<circle cx="361.7" cy="405" r="1.35" fill="#1c3a6a" stroke="none" stroke-width="0"/>
<circle cx="365.6" cy="405" r="1.35" fill="#1c3a6a" stroke="none" stroke-width="0"/>
<circle cx="369.5" cy="405" r="1.35" fill="#1c3a6a" stroke="none" stroke-width="0"/>
<circle cx="373.4" cy="405" r="1.35" fill="#1c3a6a" stroke="none" stroke-width="0"/>
<circle cx="377.3" cy="405" r="1.35" fill="#1c3a6a" stroke="none" stroke-width="0"/>
<circle cx="381.2" cy="405" r="1.35" fill="#1c3a6a" stroke="none" stroke-width="0"/>
<rect x="453" y="406" width="20.8" height="0.25" fill="#e58f82" stroke="none" stroke-width="1"/>
<rect x="486.8" y="368.8" width="20.8" height="37.45" fill="#8e9bbd" stroke="none" stroke-width="1"/>
<line x1="440" y1="333.7" x2="440" y2="406.25" stroke="#1a1a1a" stroke-width="1.35"/>
<line x1="439.35" y1="406.25" x2="519" y2="406.25" stroke="#1a1a1a" stroke-width="1.35"/>
<line x1="437.6" y1="336.1" x2="440" y2="336.1" stroke="#1a1a1a" stroke-width="0.9"/>
<text x="435.5" y="338.4" font-size="6.3" text-anchor="end" fill="#333" font-weight="normal" stroke="#333" stroke-width="0.08">150</text>
<line x1="437.6" y1="359.4" x2="440" y2="359.4" stroke="#1a1a1a" stroke-width="0.9"/>
<text x="435.5" y="361.7" font-size="6.3" text-anchor="end" fill="#333" font-weight="normal" stroke="#333" stroke-width="0.08">100</text>
<line x1="437.6" y1="382.7" x2="440" y2="382.7" stroke="#1a1a1a" stroke-width="0.9"/>
<text x="435.5" y="385" font-size="6.3" text-anchor="end" fill="#333" font-weight="normal" stroke="#333" stroke-width="0.08">50</text>
<line x1="437.6" y1="406" x2="440" y2="406" stroke="#1a1a1a" stroke-width="0.9"/>
<text x="435.5" y="408.3" font-size="6.3" text-anchor="end" fill="#333" font-weight="normal" stroke="#333" stroke-width="0.08">0</text>
<line x1="463.4" y1="406.25" x2="463.4" y2="408.85" stroke="#1a1a1a" stroke-width="0.9"/>
<line x1="497.2" y1="406.25" x2="497.2" y2="408.85" stroke="#1a1a1a" stroke-width="0.9"/>
<text x="463.4" y="418.2" font-size="6.4" text-anchor="middle" fill="#333" font-weight="normal" stroke="#333" stroke-width="0.12">HUVEC</text>
<text x="497.2" y="418.2" font-size="6.4" text-anchor="middle" fill="#333" font-weight="normal" stroke="#333" stroke-width="0.12">FCGR2B+</text>
<text x="497.2" y="426.6" font-size="6.4" text-anchor="middle" fill="#333" font-weight="normal" stroke="#333" stroke-width="0.12">HLEC</text>
<text x="418" y="369.5" font-size="7.2" text-anchor="middle" fill="#111" font-weight="normal" stroke="#111" stroke-width="0.15" transform="rotate(-90 418 369.5)" textLength="69.7" lengthAdjust="spacingAndGlyphs">FVIII activity in media (%)</text>
<path d="M463.4 401.9 V339.6 H497.2 V343.2" stroke="#333" stroke-width="0.9" fill="none"/>
<text x="480.3" y="339.9" font-size="6.3" text-anchor="middle" fill="#1a1a1a" font-weight="bold">****</text>
<line x1="497.2" y1="363.2" x2="497.2" y2="373.5" stroke="#1c3a6a" stroke-width="1"/>
<line x1="491.7" y1="363.2" x2="502.7" y2="363.2" stroke="#1c3a6a" stroke-width="1"/>
<line x1="491.7" y1="373.5" x2="502.7" y2="373.5" stroke="#1c3a6a" stroke-width="1"/>
<circle cx="453" cy="405.8" r="1.35" fill="#b8102c" stroke="none" stroke-width="0"/>
<circle cx="456.6" cy="405.8" r="1.35" fill="#b8102c" stroke="none" stroke-width="0"/>
<circle cx="460.2" cy="405.8" r="1.35" fill="#b8102c" stroke="none" stroke-width="0"/>
<circle cx="463.8" cy="405.8" r="1.35" fill="#b8102c" stroke="none" stroke-width="0"/>
<circle cx="467.4" cy="405.8" r="1.35" fill="#b8102c" stroke="none" stroke-width="0"/>
<circle cx="471" cy="405.8" r="1.35" fill="#b8102c" stroke="none" stroke-width="0"/>
<circle cx="474.6" cy="405.8" r="1.35" fill="#b8102c" stroke="none" stroke-width="0"/>
<circle cx="491.5" cy="348.8" r="1.35" fill="#1c3a6a" stroke="none" stroke-width="0"/>
<circle cx="497.2" cy="350.4" r="1.35" fill="#1c3a6a" stroke="none" stroke-width="0"/>
<circle cx="502.6" cy="348.1" r="1.35" fill="#1c3a6a" stroke="none" stroke-width="0"/>
<circle cx="491.5" cy="376.2" r="1.35" fill="#1c3a6a" stroke="none" stroke-width="0"/>
<circle cx="497.2" cy="375" r="1.35" fill="#1c3a6a" stroke="none" stroke-width="0"/>
<circle cx="502.6" cy="373.9" r="1.35" fill="#1c3a6a" stroke="none" stroke-width="0"/>
<circle cx="497.2" cy="379.2" r="1.35" fill="#1c3a6a" stroke="none" stroke-width="0"/>
<circle cx="502.6" cy="378.8" r="1.35" fill="#1c3a6a" stroke="none" stroke-width="0"/>
<circle cx="497.2" cy="383.8" r="1.35" fill="#1c3a6a" stroke="none" stroke-width="0"/>
<text transform="translate(158.135 470.487) scale(0.1377 0.1158)" font-size="100" font-weight="bold" fill="#2a1c82" stroke="#2a1c82" stroke-width="0.45" vector-effect="non-scaling-stroke">C</text>
<text transform="translate(158.366 476.800) scale(0.1341 0.0814)" font-size="100" font-weight="bold" fill="#1a9a48" stroke="#1a9a48" stroke-width="0.45" vector-effect="non-scaling-stroke">A</text>
<text transform="translate(158.153 478.630) scale(0.1334 0.0205)" font-size="100" font-weight="bold" fill="#eba02a" stroke="#eba02a" stroke-width="0.45" vector-effect="non-scaling-stroke">G</text>
<text transform="translate(158.528 480.250) scale(0.1528 0.0211)" font-size="100" font-weight="bold" fill="#d8282a" stroke="#d8282a" stroke-width="0.45" vector-effect="non-scaling-stroke">T</text>
<text transform="translate(167.453 475.025) scale(0.1334 0.1794)" font-size="100" font-weight="bold" fill="#eba02a" stroke="#eba02a" stroke-width="0.45" vector-effect="non-scaling-stroke">G</text>
<text transform="translate(167.435 477.720) scale(0.1377 0.0304)" font-size="100" font-weight="bold" fill="#2a1c82" stroke="#2a1c82" stroke-width="0.45" vector-effect="non-scaling-stroke">C</text>
<text transform="translate(167.666 480.050) scale(0.1341 0.0313)" font-size="100" font-weight="bold" fill="#1a9a48" stroke="#1a9a48" stroke-width="0.45" vector-effect="non-scaling-stroke">A</text>
<text transform="translate(177.479 480.245) scale(0.1269 0.2613)" font-size="100" font-weight="bold" fill="#2a1c82" stroke="#2a1c82" stroke-width="0.45" vector-effect="non-scaling-stroke">C</text>
<text transform="translate(186.171 479.752) scale(0.1289 0.2542)" font-size="100" font-weight="bold" fill="#eba02a" stroke="#eba02a" stroke-width="0.45" vector-effect="non-scaling-stroke">G</text>
<text transform="translate(195.354 480.048) scale(0.1331 0.2585)" font-size="100" font-weight="bold" fill="#2a1c82" stroke="#2a1c82" stroke-width="0.45" vector-effect="non-scaling-stroke">C</text>
<text transform="translate(204.735 480.048) scale(0.1377 0.2585)" font-size="100" font-weight="bold" fill="#2a1c82" stroke="#2a1c82" stroke-width="0.45" vector-effect="non-scaling-stroke">C</text>
<text transform="translate(214.447 474.800) scale(0.1416 0.1773)" font-size="100" font-weight="bold" fill="#1a9a48" stroke="#1a9a48" stroke-width="0.45" vector-effect="non-scaling-stroke">A</text>
<text transform="translate(214.204 477.616) scale(0.1453 0.0346)" font-size="100" font-weight="bold" fill="#2a1c82" stroke="#2a1c82" stroke-width="0.45" vector-effect="non-scaling-stroke">C</text>
<text transform="translate(214.223 480.216) scale(0.1408 0.0346)" font-size="100" font-weight="bold" fill="#eba02a" stroke="#eba02a" stroke-width="0.45" vector-effect="non-scaling-stroke">G</text>
<text transform="translate(224.166 474.400) scale(0.1341 0.1657)" font-size="100" font-weight="bold" fill="#1a9a48" stroke="#1a9a48" stroke-width="0.45" vector-effect="non-scaling-stroke">A</text>
<text transform="translate(223.953 476.493) scale(0.1334 0.0242)" font-size="100" font-weight="bold" fill="#eba02a" stroke="#eba02a" stroke-width="0.45" vector-effect="non-scaling-stroke">G</text>
<text transform="translate(224.328 478.383) scale(0.1528 0.0250)" font-size="100" font-weight="bold" fill="#d8282a" stroke="#d8282a" stroke-width="0.45" vector-effect="non-scaling-stroke">T</text>
<text transform="translate(223.935 480.226) scale(0.1377 0.0242)" font-size="100" font-weight="bold" fill="#2a1c82" stroke="#2a1c82" stroke-width="0.45" vector-effect="non-scaling-stroke">C</text>
<text transform="translate(233.296 474.400) scale(0.1222 0.1657)" font-size="100" font-weight="bold" fill="#1a9a48" stroke="#1a9a48" stroke-width="0.45" vector-effect="non-scaling-stroke">A</text>
<text transform="translate(233.086 476.493) scale(0.1254 0.0242)" font-size="100" font-weight="bold" fill="#2a1c82" stroke="#2a1c82" stroke-width="0.45" vector-effect="non-scaling-stroke">C</text>
<text transform="translate(233.102 478.360) scale(0.1215 0.0242)" font-size="100" font-weight="bold" fill="#eba02a" stroke="#eba02a" stroke-width="0.45" vector-effect="non-scaling-stroke">G</text>
<text transform="translate(233.444 480.250) scale(0.1393 0.0250)" font-size="100" font-weight="bold" fill="#d8282a" stroke="#d8282a" stroke-width="0.45" vector-effect="non-scaling-stroke">T</text>
<text transform="translate(241.915 473.300) scale(0.1647 0.1555)" font-size="100" font-weight="bold" fill="#d8282a" stroke="#d8282a" stroke-width="0.45" vector-effect="non-scaling-stroke">T</text>
<text transform="translate(241.491 479.916) scale(0.1484 0.0862)" font-size="100" font-weight="bold" fill="#2a1c82" stroke="#2a1c82" stroke-width="0.45" vector-effect="non-scaling-stroke">C</text>
<text transform="translate(301.271 475.321) scale(0.1289 0.1836)" font-size="100" font-weight="bold" fill="#eba02a" stroke="#eba02a" stroke-width="0.45" vector-effect="non-scaling-stroke">G</text>
<text transform="translate(301.254 479.945) scale(0.1331 0.0565)" font-size="100" font-weight="bold" fill="#2a1c82" stroke="#2a1c82" stroke-width="0.45" vector-effect="non-scaling-stroke">C</text>
<text transform="translate(310.319 476.000) scale(0.1613 0.1962)" font-size="100" font-weight="bold" fill="#d8282a" stroke="#d8282a" stroke-width="0.45" vector-effect="non-scaling-stroke">T</text>
<text transform="translate(310.147 478.050) scale(0.1416 0.0240)" font-size="100" font-weight="bold" fill="#1a9a48" stroke="#1a9a48" stroke-width="0.45" vector-effect="non-scaling-stroke">A</text>
<text transform="translate(309.904 479.827) scale(0.1453 0.0233)" font-size="100" font-weight="bold" fill="#2a1c82" stroke="#2a1c82" stroke-width="0.45" vector-effect="non-scaling-stroke">C</text>
<text transform="translate(319.923 479.266) scale(0.1408 0.2401)" font-size="100" font-weight="bold" fill="#eba02a" stroke="#eba02a" stroke-width="0.45" vector-effect="non-scaling-stroke">G</text>
<text transform="translate(329.392 475.814) scale(0.1482 0.1907)" font-size="100" font-weight="bold" fill="#eba02a" stroke="#eba02a" stroke-width="0.45" vector-effect="non-scaling-stroke">G</text>
<text transform="translate(329.809 480.000) scale(0.1698 0.0538)" font-size="100" font-weight="bold" fill="#d8282a" stroke="#d8282a" stroke-width="0.45" vector-effect="non-scaling-stroke">T</text>
<text transform="translate(339.404 469.897) scale(0.1453 0.1059)" font-size="100" font-weight="bold" fill="#2a1c82" stroke="#2a1c82" stroke-width="0.45" vector-effect="non-scaling-stroke">C</text>
<text transform="translate(339.819 477.000) scale(0.1613 0.0959)" font-size="100" font-weight="bold" fill="#d8282a" stroke="#d8282a" stroke-width="0.45" vector-effect="non-scaling-stroke">T</text>
<text transform="translate(339.423 479.815) scale(0.1408 0.0360)" font-size="100" font-weight="bold" fill="#eba02a" stroke="#eba02a" stroke-width="0.45" vector-effect="non-scaling-stroke">G</text>
<text transform="translate(348.566 476.503) scale(0.1545 0.2020)" font-size="100" font-weight="bold" fill="#2a1c82" stroke="#2a1c82" stroke-width="0.45" vector-effect="non-scaling-stroke">C</text>
<text transform="translate(348.586 478.331) scale(0.1497 0.0191)" font-size="100" font-weight="bold" fill="#eba02a" stroke="#eba02a" stroke-width="0.45" vector-effect="non-scaling-stroke">G</text>
<text transform="translate(349.007 479.850) scale(0.1715 0.0196)" font-size="100" font-weight="bold" fill="#d8282a" stroke="#d8282a" stroke-width="0.45" vector-effect="non-scaling-stroke">T</text>
<text transform="translate(359.270 474.600) scale(0.1327 0.1759)" font-size="100" font-weight="bold" fill="#1a9a48" stroke="#1a9a48" stroke-width="0.45" vector-effect="non-scaling-stroke">A</text>
<text transform="translate(359.042 479.438) scale(0.1361 0.0636)" font-size="100" font-weight="bold" fill="#2a1c82" stroke="#2a1c82" stroke-width="0.45" vector-effect="non-scaling-stroke">C</text>
<text transform="translate(367.892 479.759) scale(0.1482 0.2472)" font-size="100" font-weight="bold" fill="#eba02a" stroke="#eba02a" stroke-width="0.45" vector-effect="non-scaling-stroke">G</text>
<text transform="translate(378.029 479.759) scale(0.1393 0.2472)" font-size="100" font-weight="bold" fill="#eba02a" stroke="#eba02a" stroke-width="0.45" vector-effect="non-scaling-stroke">G</text>
<text transform="translate(387.641 475.321) scale(0.1363 0.1836)" font-size="100" font-weight="bold" fill="#eba02a" stroke="#eba02a" stroke-width="0.45" vector-effect="non-scaling-stroke">G</text>
<text transform="translate(388.025 477.850) scale(0.1562 0.0269)" font-size="100" font-weight="bold" fill="#d8282a" stroke="#d8282a" stroke-width="0.45" vector-effect="non-scaling-stroke">T</text>
<text transform="translate(387.623 479.824) scale(0.1407 0.0261)" font-size="100" font-weight="bold" fill="#2a1c82" stroke="#2a1c82" stroke-width="0.45" vector-effect="non-scaling-stroke">C</text>
<text x="167.6" y="491.5" font-size="8.5" text-anchor="start" fill="#222" font-weight="normal" stroke="#222" stroke-width="0.12">E2F</text>
<text x="195.2" y="491.5" font-size="8.5" text-anchor="start" fill="#222" font-weight="normal" stroke="#222" stroke-width="0.12"><tspan font-style="italic">P</tspan>-value = 1e-13</text>
<text x="311.3" y="491.5" font-size="8.5" text-anchor="start" fill="#222" font-weight="normal" stroke="#222" stroke-width="0.12">RAR</text>
<text x="340.2" y="491.5" font-size="8.5" text-anchor="start" fill="#222" font-weight="normal" stroke="#222" stroke-width="0.12"><tspan font-style="italic">P</tspan>-value = 1e-14</text>
<line x1="163.4" y1="496.3" x2="163.4" y2="558" stroke="#111" stroke-width="1.4"/>
<line x1="162.7" y1="557.3" x2="255.5" y2="557.3" stroke="#111" stroke-width="1.3"/>
<line x1="164.9" y1="557.3" x2="164.9" y2="559.6" stroke="#222" stroke-width="0.9"/>
<line x1="167.8" y1="557.3" x2="167.8" y2="559.6" stroke="#222" stroke-width="0.9"/>
<line x1="170.7" y1="557.3" x2="170.7" y2="559.6" stroke="#222" stroke-width="0.9"/>
<line x1="173.6" y1="557.3" x2="173.6" y2="559.6" stroke="#222" stroke-width="0.9"/>
<line x1="176.5" y1="557.3" x2="176.5" y2="559.6" stroke="#222" stroke-width="0.9"/>
<line x1="179.4" y1="557.3" x2="179.4" y2="559.6" stroke="#222" stroke-width="0.9"/>
<line x1="182.3" y1="557.3" x2="182.3" y2="559.6" stroke="#222" stroke-width="0.9"/>
<line x1="185.2" y1="557.3" x2="185.2" y2="559.6" stroke="#222" stroke-width="0.9"/>
<line x1="188.1" y1="557.3" x2="188.1" y2="559.6" stroke="#222" stroke-width="0.9"/>
<line x1="191" y1="557.3" x2="191" y2="559.6" stroke="#222" stroke-width="0.9"/>
<line x1="193.9" y1="557.3" x2="193.9" y2="559.6" stroke="#222" stroke-width="0.9"/>
<line x1="196.8" y1="557.3" x2="196.8" y2="559.6" stroke="#222" stroke-width="0.9"/>
<line x1="199.7" y1="557.3" x2="199.7" y2="559.6" stroke="#222" stroke-width="0.9"/>
<line x1="202.6" y1="557.3" x2="202.6" y2="559.6" stroke="#222" stroke-width="0.9"/>
<line x1="205.5" y1="557.3" x2="205.5" y2="559.6" stroke="#222" stroke-width="0.9"/>
<line x1="208.4" y1="557.3" x2="208.4" y2="559.6" stroke="#222" stroke-width="0.9"/>
<line x1="211.3" y1="557.3" x2="211.3" y2="559.6" stroke="#222" stroke-width="0.9"/>
<line x1="214.2" y1="557.3" x2="214.2" y2="559.6" stroke="#222" stroke-width="0.9"/>
<line x1="217.1" y1="557.3" x2="217.1" y2="559.6" stroke="#222" stroke-width="0.9"/>
<line x1="220" y1="557.3" x2="220" y2="559.6" stroke="#222" stroke-width="0.9"/>
<line x1="222.9" y1="557.3" x2="222.9" y2="559.6" stroke="#222" stroke-width="0.9"/>
<line x1="225.8" y1="557.3" x2="225.8" y2="559.6" stroke="#222" stroke-width="0.9"/>
<line x1="228.7" y1="557.3" x2="228.7" y2="559.6" stroke="#222" stroke-width="0.9"/>
<line x1="231.6" y1="557.3" x2="231.6" y2="559.6" stroke="#222" stroke-width="0.9"/>
<line x1="234.5" y1="557.3" x2="234.5" y2="559.6" stroke="#222" stroke-width="0.9"/>
<line x1="237.4" y1="557.3" x2="237.4" y2="559.6" stroke="#222" stroke-width="0.9"/>
<line x1="240.3" y1="557.3" x2="240.3" y2="559.6" stroke="#222" stroke-width="0.9"/>
<line x1="243.2" y1="557.3" x2="243.2" y2="559.6" stroke="#222" stroke-width="0.9"/>
<line x1="246.1" y1="557.3" x2="246.1" y2="559.6" stroke="#222" stroke-width="0.9"/>
<line x1="249" y1="557.3" x2="249" y2="559.6" stroke="#222" stroke-width="0.9"/>
<line x1="251.9" y1="557.3" x2="251.9" y2="559.6" stroke="#222" stroke-width="0.9"/>
<line x1="254.8" y1="557.3" x2="254.8" y2="559.6" stroke="#222" stroke-width="0.9"/>
<line x1="160.8" y1="499" x2="163.4" y2="499" stroke="#111" stroke-width="1"/>
<text x="157.6" y="500.9" font-size="5.8" text-anchor="end" fill="#333" font-weight="normal" stroke="#333" stroke-width="0.08">0.00025</text>
<line x1="160.8" y1="510.6" x2="163.4" y2="510.6" stroke="#111" stroke-width="1"/>
<text x="157.6" y="512.5" font-size="5.8" text-anchor="end" fill="#333" font-weight="normal" stroke="#333" stroke-width="0.08">0.0002</text>
<line x1="160.8" y1="522.3" x2="163.4" y2="522.3" stroke="#111" stroke-width="1"/>
<text x="157.6" y="524.2" font-size="5.8" text-anchor="end" fill="#333" font-weight="normal" stroke="#333" stroke-width="0.08">0.00015</text>
<line x1="160.8" y1="534" x2="163.4" y2="534" stroke="#111" stroke-width="1"/>
<text x="157.6" y="535.9" font-size="5.8" text-anchor="end" fill="#333" font-weight="normal" stroke="#333" stroke-width="0.08">0.0001</text>
<line x1="160.8" y1="545.4" x2="163.4" y2="545.4" stroke="#111" stroke-width="1"/>
<text x="157.6" y="547.3" font-size="5.8" text-anchor="end" fill="#333" font-weight="normal" stroke="#333" stroke-width="0.08">0.00005</text>
<line x1="160.8" y1="557.1" x2="163.4" y2="557.1" stroke="#111" stroke-width="1"/>
<text x="157.6" y="559" font-size="5.8" text-anchor="end" fill="#333" font-weight="normal" stroke="#333" stroke-width="0.08">0</text>
<polyline points="164.20,556.45 165.60,554.10 167.00,556.00 168.40,553.92 169.80,556.45 171.20,553.64 172.60,556.90 174.00,553.23 175.40,556.90 176.80,553.13 178.20,556.30 179.60,553.41 181.00,555.03 182.40,552.25 183.80,555.90 185.20,553.16 186.60,553.93 188.00,552.71 189.40,553.97 190.80,550.19 192.20,553.52 193.60,550.51 195.00,552.27 196.40,548.27 197.80,551.84 199.20,546.99 200.60,551.38 202.00,549.02 203.40,551.42 204.80,550.75 206.20,553.68 207.60,547.02 209.00,550.26 210.40,544.02 211.80,547.94 213.20,543.22 214.60,549.94 216.00,546.43 217.40,550.26 218.80,547.07 220.20,551.18 221.60,548.21 223.00,551.30 224.40,550.79 225.80,551.91 227.20,550.99 228.60,553.84 230.00,551.81 231.40,554.43 232.80,551.85 234.20,554.83 235.60,551.86 237.00,555.29 238.40,552.01 239.80,555.60 241.20,554.59 242.60,555.39 244.00,554.81 245.40,556.90 246.80,554.14 248.20,555.10 249.60,553.80 251.00,556.42 252.40,554.40 253.80,555.51" fill="none" stroke="#35609a" stroke-width="0.9" stroke-linejoin="round" opacity="1"/>
<polyline points="164.20,554.29 165.60,556.90 167.00,553.36 168.40,555.56 169.80,554.93 171.20,556.90 172.60,554.21 174.00,556.90 175.40,553.91 176.80,556.33 178.20,553.53 179.60,555.70 181.00,554.13 182.40,555.88 183.80,553.23 185.20,554.44 186.60,552.08 188.00,554.59 189.40,550.91 190.80,553.54 192.20,550.36 193.60,551.77 195.00,547.56 196.40,549.64 197.80,545.70 199.20,547.78 200.60,541.52 202.00,546.04 203.40,536.31 204.80,541.05 206.20,531.82 207.60,537.00 209.00,526.29 210.40,507.80 211.80,541.31 213.20,547.26 214.60,542.80 216.00,547.08 217.40,543.02 218.80,547.03 220.20,546.24 221.60,550.73 223.00,546.64 224.40,550.95 225.80,548.00 227.20,552.00 228.60,549.56 230.00,552.27 231.40,550.99 232.80,553.60 234.20,551.31 235.60,554.50 237.00,552.21 238.40,554.88 239.80,552.28 241.20,554.81 242.60,552.82 244.00,555.84 245.40,553.03 246.80,556.90 248.20,554.21 249.60,556.19 251.00,554.85 252.40,555.58 253.80,555.02" fill="none" stroke="#c42850" stroke-width="0.9" stroke-linejoin="round" opacity="0.9"/>
<line x1="308.6" y1="496.3" x2="308.6" y2="557.9" stroke="#111" stroke-width="1.4"/>
<line x1="307.9" y1="557.2" x2="395.4" y2="557.2" stroke="#111" stroke-width="1.3"/>
<line x1="310.1" y1="557.2" x2="310.1" y2="559.5" stroke="#222" stroke-width="0.9"/>
<line x1="313" y1="557.2" x2="313" y2="559.5" stroke="#222" stroke-width="0.9"/>
<line x1="315.9" y1="557.2" x2="315.9" y2="559.5" stroke="#222" stroke-width="0.9"/>
<line x1="318.8" y1="557.2" x2="318.8" y2="559.5" stroke="#222" stroke-width="0.9"/>
<line x1="321.7" y1="557.2" x2="321.7" y2="559.5" stroke="#222" stroke-width="0.9"/>
<line x1="324.6" y1="557.2" x2="324.6" y2="559.5" stroke="#222" stroke-width="0.9"/>
<line x1="327.5" y1="557.2" x2="327.5" y2="559.5" stroke="#222" stroke-width="0.9"/>
<line x1="330.4" y1="557.2" x2="330.4" y2="559.5" stroke="#222" stroke-width="0.9"/>
<line x1="333.3" y1="557.2" x2="333.3" y2="559.5" stroke="#222" stroke-width="0.9"/>
<line x1="336.2" y1="557.2" x2="336.2" y2="559.5" stroke="#222" stroke-width="0.9"/>
<line x1="339.1" y1="557.2" x2="339.1" y2="559.5" stroke="#222" stroke-width="0.9"/>
<line x1="342" y1="557.2" x2="342" y2="559.5" stroke="#222" stroke-width="0.9"/>
<line x1="344.9" y1="557.2" x2="344.9" y2="559.5" stroke="#222" stroke-width="0.9"/>
<line x1="347.8" y1="557.2" x2="347.8" y2="559.5" stroke="#222" stroke-width="0.9"/>
<line x1="350.7" y1="557.2" x2="350.7" y2="559.5" stroke="#222" stroke-width="0.9"/>
<line x1="353.6" y1="557.2" x2="353.6" y2="559.5" stroke="#222" stroke-width="0.9"/>
<line x1="356.5" y1="557.2" x2="356.5" y2="559.5" stroke="#222" stroke-width="0.9"/>
<line x1="359.4" y1="557.2" x2="359.4" y2="559.5" stroke="#222" stroke-width="0.9"/>
<line x1="362.3" y1="557.2" x2="362.3" y2="559.5" stroke="#222" stroke-width="0.9"/>
<line x1="365.2" y1="557.2" x2="365.2" y2="559.5" stroke="#222" stroke-width="0.9"/>
<line x1="368.1" y1="557.2" x2="368.1" y2="559.5" stroke="#222" stroke-width="0.9"/>
<line x1="371" y1="557.2" x2="371" y2="559.5" stroke="#222" stroke-width="0.9"/>
<line x1="373.9" y1="557.2" x2="373.9" y2="559.5" stroke="#222" stroke-width="0.9"/>
<line x1="376.8" y1="557.2" x2="376.8" y2="559.5" stroke="#222" stroke-width="0.9"/>
<line x1="379.7" y1="557.2" x2="379.7" y2="559.5" stroke="#222" stroke-width="0.9"/>
<line x1="382.6" y1="557.2" x2="382.6" y2="559.5" stroke="#222" stroke-width="0.9"/>
<line x1="385.5" y1="557.2" x2="385.5" y2="559.5" stroke="#222" stroke-width="0.9"/>
<line x1="388.4" y1="557.2" x2="388.4" y2="559.5" stroke="#222" stroke-width="0.9"/>
<line x1="391.3" y1="557.2" x2="391.3" y2="559.5" stroke="#222" stroke-width="0.9"/>
<line x1="394.2" y1="557.2" x2="394.2" y2="559.5" stroke="#222" stroke-width="0.9"/>
<line x1="306" y1="499.4" x2="308.6" y2="499.4" stroke="#111" stroke-width="1"/>
<text x="304.2" y="501.3" font-size="5.9" text-anchor="end" fill="#333" font-weight="normal" stroke="#333" stroke-width="0.08">3.50E-04</text>
<line x1="306" y1="507.5" x2="308.6" y2="507.5" stroke="#111" stroke-width="1"/>
<text x="304.2" y="509.4" font-size="5.9" text-anchor="end" fill="#333" font-weight="normal" stroke="#333" stroke-width="0.08">3.00E-04</text>
<line x1="306" y1="515.6" x2="308.6" y2="515.6" stroke="#111" stroke-width="1"/>
<text x="304.2" y="517.5" font-size="5.9" text-anchor="end" fill="#333" font-weight="normal" stroke="#333" stroke-width="0.08">2.50E-04</text>
<line x1="306" y1="523.7" x2="308.6" y2="523.7" stroke="#111" stroke-width="1"/>
<text x="304.2" y="525.6" font-size="5.9" text-anchor="end" fill="#333" font-weight="normal" stroke="#333" stroke-width="0.08">2.00E-04</text>
<line x1="306" y1="531.9" x2="308.6" y2="531.9" stroke="#111" stroke-width="1"/>
<text x="304.2" y="533.8" font-size="5.9" text-anchor="end" fill="#333" font-weight="normal" stroke="#333" stroke-width="0.08">1.50E-04</text>
<line x1="306" y1="540.1" x2="308.6" y2="540.1" stroke="#111" stroke-width="1"/>
<text x="304.2" y="542" font-size="5.9" text-anchor="end" fill="#333" font-weight="normal" stroke="#333" stroke-width="0.08">1.00E-04</text>
<line x1="306" y1="548.3" x2="308.6" y2="548.3" stroke="#111" stroke-width="1"/>
<text x="304.2" y="550.2" font-size="5.9" text-anchor="end" fill="#333" font-weight="normal" stroke="#333" stroke-width="0.08">5.00E-05</text>
<line x1="306" y1="556.4" x2="308.6" y2="556.4" stroke="#111" stroke-width="1"/>
<text x="304.2" y="558.3" font-size="5.9" text-anchor="end" fill="#333" font-weight="normal" stroke="#333" stroke-width="0.08">0.00E+00</text>
<polyline points="309.40,537.47 310.40,533.52 311.40,536.84 312.40,534.27 313.40,538.25 314.40,534.29 315.40,537.06 316.40,531.41 317.40,539.98 318.40,531.27 319.40,539.24 320.40,529.23 321.40,536.48 322.40,532.65 323.40,533.63 324.40,536.78 325.40,541.33 326.40,531.41 327.40,538.66 328.40,531.77 329.40,530.78 330.40,532.12 331.40,533.40 332.40,530.69 333.40,523.00 334.40,526.06 335.40,530.95 336.40,528.24 337.40,530.88 338.40,525.57 339.40,533.41 340.40,521.66 341.40,525.81 342.40,518.73 343.40,515.00 344.40,524.42 345.40,526.04 346.40,520.73 347.40,524.34 348.40,517.13 349.40,522.09 350.40,515.13 351.40,511.00 352.40,517.97 353.40,521.57 354.40,513.55 355.40,516.68 356.40,513.25 357.40,523.48 358.40,516.67 359.40,520.97 360.40,513.96 361.40,505.50 362.40,514.58 363.40,523.05 364.40,517.43 365.40,522.54 366.40,518.79 367.40,527.18 368.40,517.89 369.40,526.26 370.40,519.84 371.40,530.41 372.40,520.69 373.40,530.60 374.40,527.02 375.40,510.30 376.40,521.28 377.40,529.65 378.40,523.99 379.40,526.47 380.40,525.69 381.40,533.61 382.40,522.57 383.40,527.12 384.40,521.14 385.40,528.55 386.40,520.28 387.40,526.86 388.40,528.37 389.40,528.45 390.40,527.88 391.40,534.65 392.40,528.05 393.40,533.77 394.30,557.20" fill="none" stroke="#3a6aa4" stroke-width="1.0" stroke-linejoin="round" opacity="1"/>
<polyline points="309.40,544.20 310.40,544.82 311.40,541.48 312.40,546.63 313.40,543.47 314.40,547.43 315.40,541.43 316.40,546.02 317.40,541.07 318.40,543.04 319.40,542.82 320.40,550.13 321.40,538.57 322.40,546.40 323.40,542.29 324.40,544.52 325.40,543.87 326.40,546.07 327.40,544.89 328.40,545.97 329.40,543.23 330.40,547.57 331.40,540.23 332.40,548.18 333.40,543.07 334.40,548.50 335.40,542.63 336.40,543.29 337.40,541.10 338.40,545.19 339.40,542.25 340.40,539.30 341.40,537.64 342.40,535.65 343.40,534.69 344.40,534.16 345.40,529.15 346.40,534.61 347.40,532.40 348.40,528.05 349.40,524.65 350.40,527.53 351.40,522.37 352.40,529.24 353.40,520.61 354.40,523.98 355.40,522.32 356.40,523.31 357.40,520.76 358.40,522.59 359.40,518.53 360.40,525.44 361.40,529.02 362.40,529.09 363.40,527.98 364.40,534.12 365.40,530.36 366.40,536.16 367.40,536.85 368.40,538.65 369.40,534.37 370.40,539.54 371.40,536.44 372.40,545.72 373.40,539.38 374.40,542.86 375.40,535.79 376.40,543.89 377.40,542.59 378.40,538.54 379.40,540.39 380.40,543.21 381.40,543.82 382.40,543.25 383.40,542.04 384.40,543.23 385.40,538.78 386.40,549.31 387.40,542.78 388.40,546.53 389.40,540.76 390.40,541.42 391.40,542.79 392.40,546.55 393.40,544.03 394.30,557.20" fill="none" stroke="#c62442" stroke-width="1.0" stroke-linejoin="round" opacity="1"/>
<rect x="164.3" y="564.4" width="35.6" height="11.5" fill="#c9c9cd" stroke="#333" stroke-width="0.9"/>
<rect x="164.3" y="575.9" width="35.6" height="81.3" fill="#fff" stroke="#333" stroke-width="0.9"/>
<text x="182.1" y="572.6" font-size="6.2" text-anchor="middle" fill="#333" font-weight="normal" stroke="#333" stroke-width="0.12">E2F3</text>
<line x1="161.5" y1="579.6" x2="164.3" y2="579.6" stroke="#333" stroke-width="0.9"/>
<text x="157.6" y="581.9" font-size="6.4" text-anchor="end" fill="#333" font-weight="normal" stroke="#333" stroke-width="0.08">1500</text>
<line x1="161.5" y1="604.6" x2="164.3" y2="604.6" stroke="#333" stroke-width="0.9"/>
<text x="157.6" y="606.9" font-size="6.4" text-anchor="end" fill="#333" font-weight="normal" stroke="#333" stroke-width="0.08">1000</text>
<line x1="161.5" y1="629.3" x2="164.3" y2="629.3" stroke="#333" stroke-width="0.9"/>
<text x="157.6" y="631.6" font-size="6.4" text-anchor="end" fill="#333" font-weight="normal" stroke="#333" stroke-width="0.08">500</text>
<line x1="161.5" y1="654" x2="164.3" y2="654" stroke="#333" stroke-width="0.9"/>
<text x="157.6" y="656.3" font-size="6.4" text-anchor="end" fill="#333" font-weight="normal" stroke="#333" stroke-width="0.08">0</text>
<line x1="174.1" y1="602.7" x2="174.1" y2="615" stroke="#555" stroke-width="0.9"/>
<line x1="174.1" y1="625.8" x2="174.1" y2="639.6" stroke="#555" stroke-width="0.9"/>
<rect x="168.3" y="615" width="11.6" height="10.8" fill="#c8042e" stroke="none" stroke-width="1"/>
<line x1="168.3" y1="620.8" x2="179.9" y2="620.8" stroke="#7a0a20" stroke-width="1.0"/>
<circle cx="174.1" cy="579.7" r="1.05" fill="#111" stroke="none" stroke-width="0"/>
<circle cx="174.1" cy="584.6" r="1.05" fill="#111" stroke="none" stroke-width="0"/>
<circle cx="174.1" cy="587" r="1.05" fill="#111" stroke="none" stroke-width="0"/>
<circle cx="174.1" cy="589.3" r="1.05" fill="#111" stroke="none" stroke-width="0"/>
<circle cx="174.1" cy="591.6" r="1.05" fill="#111" stroke="none" stroke-width="0"/>
<circle cx="174.1" cy="594.2" r="1.05" fill="#111" stroke="none" stroke-width="0"/>
<line x1="174.1" y1="657.2" x2="174.1" y2="659.8" stroke="#333" stroke-width="0.9"/>
<line x1="189.9" y1="632.5" x2="189.9" y2="637.3" stroke="#555" stroke-width="0.9"/>
<line x1="189.9" y1="652.5" x2="189.9" y2="654.2" stroke="#555" stroke-width="0.9"/>
<rect x="184" y="637.3" width="11.8" height="15.2" fill="#0f4f88" stroke="none" stroke-width="1"/>
<line x1="184" y1="650.6" x2="195.8" y2="650.6" stroke="#0e2e58" stroke-width="1.0"/>
<line x1="189.9" y1="657.2" x2="189.9" y2="659.8" stroke="#333" stroke-width="0.9"/>
<text x="175.3" y="665.2" font-size="6.6" text-anchor="end" fill="#333" font-weight="normal" stroke="#333" stroke-width="0.12" transform="rotate(-45 175.3 665.2)">HUVEC</text>
<text x="191.1" y="665.2" font-size="6.6" text-anchor="end" fill="#333" font-weight="normal" stroke="#333" stroke-width="0.12" transform="rotate(-45 191.1 665.2)">CV HLEC</text>
<rect x="228" y="564.4" width="34.7" height="11.5" fill="#c9c9cd" stroke="#333" stroke-width="0.9"/>
<rect x="228" y="575.9" width="34.7" height="81.4" fill="#fff" stroke="#333" stroke-width="0.9"/>
<text x="245.35" y="572.6" font-size="6.2" text-anchor="middle" fill="#333" font-weight="normal" stroke="#333" stroke-width="0.12">E2F8</text>
<line x1="225.2" y1="599.8" x2="228" y2="599.8" stroke="#333" stroke-width="0.9"/>
<text x="220.8" y="602.1" font-size="6.4" text-anchor="end" fill="#333" font-weight="normal" stroke="#333" stroke-width="0.08">2000</text>
<line x1="225.2" y1="626.7" x2="228" y2="626.7" stroke="#333" stroke-width="0.9"/>
<text x="220.8" y="629" font-size="6.4" text-anchor="end" fill="#333" font-weight="normal" stroke="#333" stroke-width="0.08">1000</text>
<line x1="225.2" y1="653.7" x2="228" y2="653.7" stroke="#333" stroke-width="0.9"/>
<text x="220.8" y="656" font-size="6.4" text-anchor="end" fill="#333" font-weight="normal" stroke="#333" stroke-width="0.08">0</text>
<line x1="236.9" y1="629" x2="236.9" y2="639" stroke="#555" stroke-width="0.9"/>
<line x1="236.9" y1="647.4" x2="236.9" y2="652" stroke="#555" stroke-width="0.9"/>
<rect x="231" y="639" width="11.8" height="8.4" fill="#c8042e" stroke="none" stroke-width="1"/>
<line x1="231" y1="642.8" x2="242.8" y2="642.8" stroke="#9a0a24" stroke-width="1.0"/>
<circle cx="236.9" cy="579.5" r="1.05" fill="#111" stroke="none" stroke-width="0"/>
<circle cx="236.9" cy="605.8" r="1.05" fill="#111" stroke="none" stroke-width="0"/>
<circle cx="236.9" cy="608.4" r="1.05" fill="#111" stroke="none" stroke-width="0"/>
<line x1="236.9" y1="657.3" x2="236.9" y2="659.9" stroke="#333" stroke-width="0.9"/>
<line x1="252.8" y1="652.4" x2="252.8" y2="652.9" stroke="#555" stroke-width="0.9"/>
<line x1="252.8" y1="653.7" x2="252.8" y2="653.9" stroke="#555" stroke-width="0.9"/>
<rect x="246.6" y="652.9" width="12.4" height="0.8" fill="#1a2a44" stroke="none" stroke-width="1"/>
<line x1="246.6" y1="653.3" x2="259" y2="653.3" stroke="#111" stroke-width="1.0"/>
<line x1="252.8" y1="657.3" x2="252.8" y2="659.9" stroke="#333" stroke-width="0.9"/>
<text x="238.1" y="665.3" font-size="6.6" text-anchor="end" fill="#333" font-weight="normal" stroke="#333" stroke-width="0.12" transform="rotate(-45 238.1 665.3)">HUVEC</text>
<text x="253.8" y="665.3" font-size="6.6" text-anchor="end" fill="#333" font-weight="normal" stroke="#333" stroke-width="0.12" transform="rotate(-45 253.8 665.3)">CV HLEC</text>
<rect x="324" y="564.5" width="74.9" height="8.7" fill="#c9c9cd" stroke="#333" stroke-width="0.9"/>
<rect x="324" y="573.2" width="74.9" height="84.2" fill="#fff" stroke="#333" stroke-width="0.9"/>
<text x="361.45" y="571.3" font-size="6.4" text-anchor="middle" fill="#333" font-weight="normal" stroke="#333" stroke-width="0.12">RARA</text>
<line x1="321.2" y1="579.8" x2="324" y2="579.8" stroke="#333" stroke-width="0.9"/>
<text x="318.5" y="582.1" font-size="6.6" text-anchor="end" fill="#333" font-weight="normal" stroke="#333" stroke-width="0.08">10000</text>
<line x1="321.2" y1="598.4" x2="324" y2="598.4" stroke="#333" stroke-width="0.9"/>
<text x="318.5" y="600.7" font-size="6.6" text-anchor="end" fill="#333" font-weight="normal" stroke="#333" stroke-width="0.08">7500</text>
<line x1="321.2" y1="617" x2="324" y2="617" stroke="#333" stroke-width="0.9"/>
<text x="318.5" y="619.3" font-size="6.6" text-anchor="end" fill="#333" font-weight="normal" stroke="#333" stroke-width="0.08">5000</text>
<line x1="321.2" y1="635.7" x2="324" y2="635.7" stroke="#333" stroke-width="0.9"/>
<text x="318.5" y="638" font-size="6.6" text-anchor="end" fill="#333" font-weight="normal" stroke="#333" stroke-width="0.08">2500</text>
<line x1="321.2" y1="654.3" x2="324" y2="654.3" stroke="#333" stroke-width="0.9"/>
<text x="318.5" y="656.6" font-size="6.6" text-anchor="end" fill="#333" font-weight="normal" stroke="#333" stroke-width="0.08">0</text>
<line x1="344.2" y1="646.8" x2="344.2" y2="648.8" stroke="#555" stroke-width="0.9"/>
<line x1="344.2" y1="651" x2="344.2" y2="654" stroke="#555" stroke-width="0.9"/>
<rect x="331.9" y="648.8" width="24.6" height="2.2" fill="#a0142c" stroke="none" stroke-width="1"/>
<line x1="331.9" y1="649.9" x2="356.5" y2="649.9" stroke="#5a0a14" stroke-width="1.0"/>
<circle cx="344.2" cy="620.4" r="1.05" fill="#111" stroke="none" stroke-width="0"/>
<circle cx="344.2" cy="643.3" r="1.05" fill="#111" stroke="none" stroke-width="0"/>
<circle cx="344.2" cy="645.7" r="1.05" fill="#111" stroke="none" stroke-width="0"/>
<line x1="344.2" y1="657.4" x2="344.2" y2="660" stroke="#333" stroke-width="0.9"/>
<line x1="378.7" y1="577.4" x2="378.7" y2="600.1" stroke="#555" stroke-width="0.9"/>
<line x1="378.7" y1="625.4" x2="378.7" y2="628.3" stroke="#555" stroke-width="0.9"/>
<rect x="366.1" y="600.1" width="25.2" height="25.3" fill="#0f4f88" stroke="none" stroke-width="1"/>
<line x1="366.1" y1="618.2" x2="391.3" y2="618.2" stroke="#0e2e58" stroke-width="1.0"/>
<line x1="378.7" y1="657.4" x2="378.7" y2="660" stroke="#333" stroke-width="0.9"/>
<text x="345.4" y="665.4" font-size="6.6" text-anchor="end" fill="#333" font-weight="normal" stroke="#333" stroke-width="0.12" transform="rotate(-45 345.4 665.4)">HUVEC</text>
<text x="379.9" y="665.4" font-size="6.6" text-anchor="end" fill="#333" font-weight="normal" stroke="#333" stroke-width="0.12" transform="rotate(-45 379.9 665.4)">CV HLEC</text>
<text x="136.9" y="612" font-size="8.0" text-anchor="middle" fill="#111" font-weight="normal" stroke="#111" stroke-width="0.25" transform="rotate(-90 136.9 612)" textLength="83" lengthAdjust="spacingAndGlyphs">RNA expression (relative units)</text>
<text x="293.8" y="613.5" font-size="8.0" text-anchor="middle" fill="#111" font-weight="normal" stroke="#111" stroke-width="0.25" transform="rotate(-90 293.8 613.5)" textLength="83" lengthAdjust="spacingAndGlyphs">RNA expression (relative units)</text>
</svg>
</body></html>
